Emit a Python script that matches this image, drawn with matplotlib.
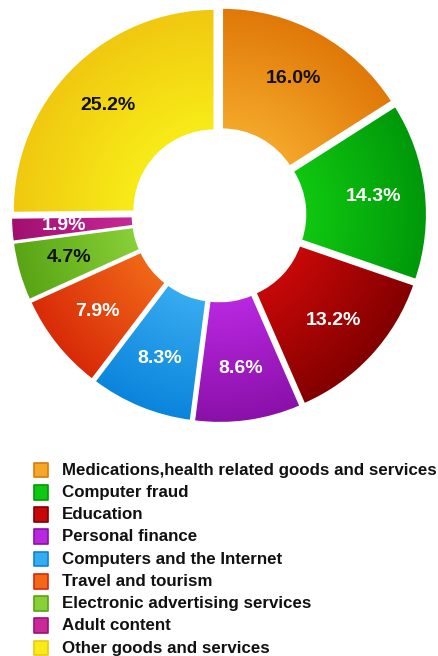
import numpy as np
import matplotlib.pyplot as plt
from matplotlib.colors import to_rgb

# Share of each category (percent)
categories = [
    'Medications,health related goods and services',
    'Computer fraud',
    'Education',
    'Personal finance',
    'Computers and the Internet',
    'Travel and tourism',
    'Electronic advertising services',
    'Adult content',
    'Other goods and services',
]
values = [16.0, 14.3, 13.2, 8.6, 8.3, 7.9, 4.7, 1.9, 25.2]

# light (inner) and dark (outer) shade for each slice
inner_colors = ['#f4a82a', '#10c810', '#c80808', '#b828e0', '#38acf0',
                '#f06818', '#88d038', '#c82898', '#f8ec18']
outer_colors = ['#e07808', '#00980a', '#820000', '#8a10a8', '#0a84dc',
                '#d82a08', '#58a414', '#a01070', '#f0c810']
label_colors = ['#111111', 'white', 'white', 'white', 'white',
                'white', '#111111', 'white', '#111111']

plt.rcParams['font.family'] = ['Liberation Sans', 'DejaVu Sans']

fig = plt.figure(figsize=(4.38, 6.56), dpi=100)

# donut chart in the upper part of the figure
ax = fig.add_axes([0, 1 - 438 / 656, 1, 438 / 656])
total = sum(values)
ring = 0.585
wedges, _, autotexts = ax.pie(
    values, startangle=90, counterclock=False,
    colors=outer_colors, radius=0.97, explode=[0.03] * len(values),
    pctdistance=0.74,
    autopct=lambda p: f'{p * total / 100:.1f}%',
    wedgeprops=dict(width=ring, edgecolor='white', linewidth=1.5),
    textprops=dict(fontsize=14, fontweight='bold'))
ax.set_aspect('equal')
ax.axis('off')
xlim = (-219 / 208, 219 / 208)
ylim = (-223 / 208, 215 / 208)

# radial shading inside every slice
xs = np.linspace(*xlim, 440)
ys = np.linspace(*ylim, 440)
gx, gy = np.meshgrid(xs, ys)
r_in, r_out = 0.97 - ring, 0.97
for w, c0, c1 in zip(wedges, inner_colors, outer_colors):
    cx, cy = w.center
    t = np.clip((np.hypot(gx - cx, gy - cy) - r_in) / (r_out - r_in), 0, 1)
    t = t[..., None]
    img = np.array(to_rgb(c0)) * (1 - t) + np.array(to_rgb(c1)) * t
    im = ax.imshow(img, extent=(*xlim, *ylim),
                   origin='lower', zorder=2, interpolation='bilinear')
    im.set_clip_path(w)
    w.set_facecolor('none')
    w.set_zorder(3)
ax.set_xlim(*xlim)
ax.set_ylim(*ylim)

for txt, col in zip(autotexts, label_colors):
    txt.set_color(col)
    txt.set_zorder(4)

# legend below the chart
lax = fig.add_axes([0, 0, 1, 216 / 656])
lax.set_xlim(0, 438)
lax.set_ylim(656, 440)
lax.axis('off')
rows = 470 + 22.25 * np.arange(len(categories))
lax.scatter([41] * len(categories), rows, marker='s', s=115,
            c=inner_colors, edgecolors=outer_colors, linewidths=1.2)
for y, name in zip(rows, categories):
    lax.text(62, y, name, fontsize=12.2, fontweight='bold',
             color='#111111', va='center', ha='left')

fig.savefig('out.png', dpi=100)
